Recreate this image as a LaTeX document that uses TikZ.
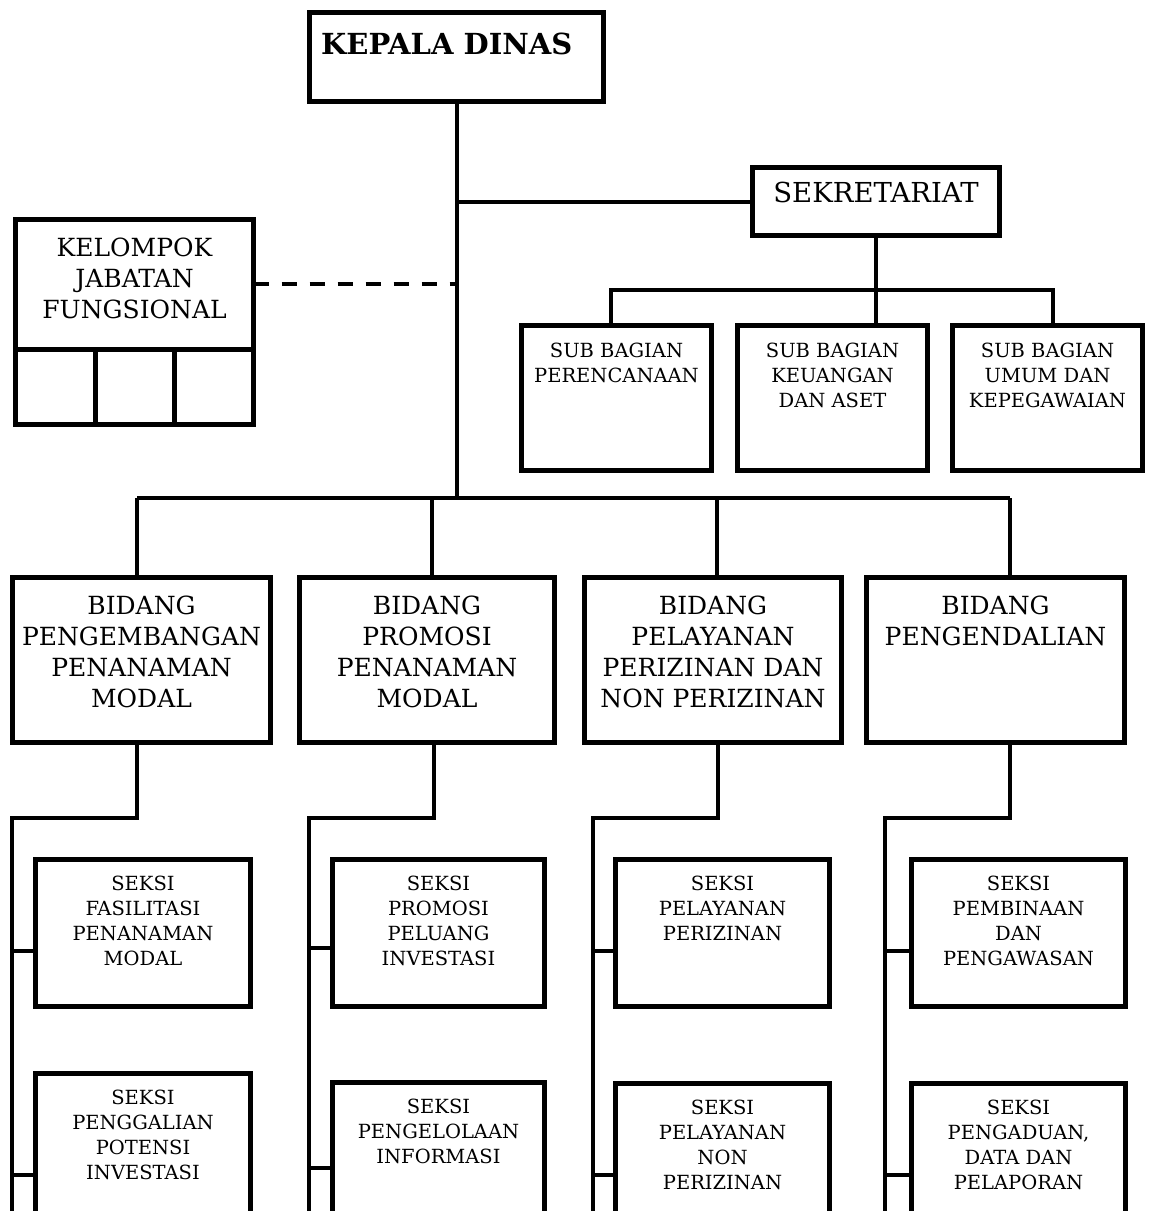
\documentclass[tikz,border=0pt]{standalone}
\usepackage{fontspec}
\setmainfont{DejaVu Serif}
\usetikzlibrary{positioning}

\begin{document}
\begin{tikzpicture}[x=1pt, y=-1pt,
  box/.style={draw, line width=5pt, inner sep=0pt, outer sep=0pt},
  conn/.style={line width=4pt},
  big/.style={font=\fontsize{25}{31}\selectfont, align=center, inner sep=0pt},
  small/.style={font=\fontsize{19.5}{25}\selectfont, align=center, inner sep=0pt}]
\clip (0,0) rectangle (1149,1211);
\fill[white] (0,0) rectangle (1149,1211);

% top
\node[box, minimum width=294pt, minimum height=89pt] (kadis) at (456.5,57){};
\node[anchor=west, inner sep=0pt, font=\fontsize{29}{32}\selectfont\bfseries] (kadisT) at (321,44){KEPALA DINAS};
\node[box, minimum width=247pt, minimum height=68pt] (sekre) at (876,201.5){};
\node[inner sep=0pt, font=\fontsize{27.5}{30}\selectfont, below=14.5pt of sekre.north] (sekreT){SEKRETARIAT};

% kelompok jabatan fungsional
\node[box, minimum width=238pt, minimum height=129.5pt] (jafung) at (134.5,284.25){};
\node[big, below=18.5pt of jafung.north] (jafungT){KELOMPOK\\JABATAN\\FUNGSIONAL};
\node[box, minimum width=79.5pt, minimum height=75.5pt] (jf1) at (55.25,386.75){};
\node[box, minimum width=79pt, minimum height=75.5pt] (jf2) at (134.5,386.75){};
\node[box, minimum width=79.5pt, minimum height=75.5pt] (jf3) at (213.75,386.75){};

% sub bagian
\node[box, minimum width=190pt, minimum height=145pt] (sb1) at (616.5,398){};
\node[box, minimum width=190pt, minimum height=145pt] (sb2) at (832.5,398){};
\node[box, minimum width=190pt, minimum height=145pt] (sb3) at (1047.5,398){};
\node[small, below=17.4pt of sb1.north] (sb1T){SUB BAGIAN\\PERENCANAAN};
\node[small, below=17.4pt of sb2.north] (sb2T){SUB BAGIAN\\KEUANGAN\\DAN ASET};
\node[small, below=17.4pt of sb3.north] (sb3T){SUB BAGIAN\\UMUM DAN\\KEPEGAWAIAN};

% bidang
\node[box, minimum width=258pt, minimum height=165pt] (bd1) at (141.5,660){};
\node[box, minimum width=255pt, minimum height=165pt] (bd2) at (427,660){};
\node[box, minimum width=257pt, minimum height=165pt] (bd3) at (713,660){};
\node[box, minimum width=258pt, minimum height=165pt] (bd4) at (995.5,660){};
\node[big, below=18.5pt of bd1.north] (bd1T){BIDANG\\PENGEMBANGAN\\PENANAMAN\\MODAL};
\node[big, below=18.5pt of bd2.north] (bd2T){BIDANG\\PROMOSI\\PENANAMAN\\MODAL};
\node[big, below=18.5pt of bd3.north] (bd3T){BIDANG\\PELAYANAN\\PERIZINAN DAN\\NON PERIZINAN};
\node[big, below=18.5pt of bd4.north] (bd4T){BIDANG\\PENGENDALIAN};

% seksi
\node[box, minimum width=215pt, minimum height=147pt] (s11) at (143,933){};
\node[box, minimum width=215pt, minimum height=147pt] (s12) at (143,1146.5){};
\node[box, minimum width=212pt, minimum height=147pt] (s21) at (438.5,933){};
\node[box, minimum width=212pt, minimum height=147pt] (s22) at (438.5,1155.5){};
\node[box, minimum width=214pt, minimum height=147pt] (s31) at (722.5,933){};
\node[box, minimum width=214pt, minimum height=147pt] (s32) at (722.5,1156.5){};
\node[box, minimum width=214pt, minimum height=147pt] (s41) at (1018.5,933){};
\node[box, minimum width=214pt, minimum height=147pt] (s42) at (1018.5,1156.5){};
\node[small, below=16.5pt of s11.north] (s11T){SEKSI\\FASILITASI\\PENANAMAN\\MODAL};
\node[small, below=16.5pt of s12.north] (s12T){SEKSI\\PENGGALIAN\\POTENSI\\INVESTASI};
\node[small, below=16.5pt of s21.north] (s21T){SEKSI\\PROMOSI\\PELUANG\\INVESTASI};
\node[small, below=16.5pt of s22.north] (s22T){SEKSI\\PENGELOLAAN\\INFORMASI};
\node[small, below=16.5pt of s31.north] (s31T){SEKSI\\PELAYANAN\\PERIZINAN};
\node[small, below=16.5pt of s32.north] (s32T){SEKSI\\PELAYANAN\\NON\\PERIZINAN};
\node[small, below=16.5pt of s41.north] (s41T){SEKSI\\PEMBINAAN\\DAN\\PENGAWASAN};
\node[small, below=16.5pt of s42.north] (s42T){SEKSI\\PENGADUAN,\\DATA DAN\\PELAPORAN};

% lines from the top
\coordinate (jn1) at (137,498);
\coordinate (jn2) at (432,498);
\coordinate (jn3) at (717,498);
\coordinate (jn4) at (1010,498);
\draw[conn](kadis.south) -- (kadis.south |- jn1);
\draw[conn](jn1) -- (jn4);
\draw[conn](jn1) -- (jn1 |- bd1.north);
\draw[conn](jn2) -- (jn2 |- bd2.north);
\draw[conn](jn3) -- (jn3 |- bd3.north);
\draw[conn](jn4) -- (jn4 |- bd4.north);
\draw[conn](sekre.west) -- (sekre.west -| kadis.south);
\draw[line width=4pt, dash pattern=on 15pt off 13pt](jafung.east) -- (jafung.east -| kadis.south);

% sekretariat to sub bagian
\coordinate (sj1) at (611,290);
\coordinate (sj3) at (1053,290);
\draw[conn](sekre.south) -- (sekre.south |- sb2.north);
\draw[conn](sj1 |- sb1.north) -- (sj1) -- (sj3) -- (sj3 |- sb3.north);

% bidang to seksi
\coordinate (k1) at (137,818);
\coordinate (k2) at (434,818);
\coordinate (k3) at (718,818);
\coordinate (k4) at (1010,818);
\coordinate (sp1) at (12,818);
\coordinate (sp2) at (309,818);
\coordinate (sp3) at (593,818);
\coordinate (sp4) at (885,818);
\draw[conn](bd1.south -| k1) -- (k1) -- (sp1) -- (sp1 |- 0,1220);
\draw[conn](bd2.south -| k2) -- (k2) -- (sp2) -- (sp2 |- 0,1220);
\draw[conn](bd3.south -| k3) -- (k3) -- (sp3) -- (sp3 |- 0,1220);
\draw[conn](bd4.south -| k4) -- (k4) -- (sp4) -- (sp4 |- 0,1220);
\draw[conn]([yshift=-18pt]s11.west) -- ([yshift=-18pt]s11.west -| sp1);
\draw[conn]([yshift=-28.5pt]s12.west) -- ([yshift=-28.5pt]s12.west -| sp1);
\draw[conn]([yshift=-15pt]s21.west) -- ([yshift=-15pt]s21.west -| sp2);
\draw[conn]([yshift=-12.5pt]s22.west) -- ([yshift=-12.5pt]s22.west -| sp2);
\draw[conn]([yshift=-18pt]s31.west) -- ([yshift=-18pt]s31.west -| sp3);
\draw[conn]([yshift=-18.5pt]s32.west) -- ([yshift=-18.5pt]s32.west -| sp3);
\draw[conn]([yshift=-18pt]s41.west) -- ([yshift=-18pt]s41.west -| sp4);
\draw[conn]([yshift=-18.5pt]s42.west) -- ([yshift=-18.5pt]s42.west -| sp4);
\end{tikzpicture}
\end{document}
